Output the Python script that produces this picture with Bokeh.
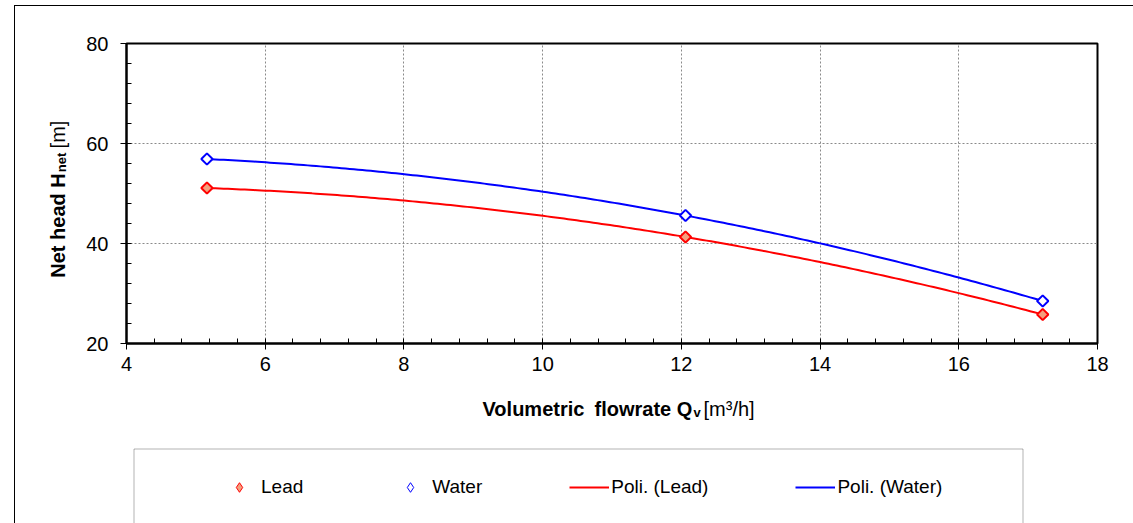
import numpy as np
from bokeh.plotting import figure
from bokeh.layouts import column, row
from bokeh.models import (Range1d, SingleIntervalTicker, Label, Legend,
                          LegendItem, BoxAnnotation)
from bokeh.embed import file_html
from bokeh.resources import INLINE

# ---- data ----
flow = [5.16, 12.06, 17.21]          # Volumetric flowrate Qv [m3/h]
head_lead = [51.1, 41.3, 25.8]       # Net head, Lead [m]
head_water = [56.9, 45.6, 28.5]      # Net head, Water [m]
series_labels = ["Lead", "Water", "Poli. (Lead)", "Poli. (Water)"]
x_limits = [4, 18]
y_limits = [20, 80]

FONT = "Liberation Sans"
W, H = 1133, 523
LEFT_W = 70
BOTTOM_TOP = 383          # page y where the bottom panel begins
FRAME_L, FRAME_T, FRAME_W, FRAME_H = 126, 43, 971, 300
FRAME_B = FRAME_T + FRAME_H

LEAD_STYLE = dict(fill_color="#F4A07E", line_color="#FF0000")
WATER_STYLE = dict(fill_color="white", line_color="#0000FF")
FIT_LEAD_STYLE = dict(line_color="#FF0000", line_width=2)
FIT_WATER_STYLE = dict(line_color="#0000FF", line_width=2)


def blank(w, h, x0, x1, y0, y1, top=0, bottom=0):
    f = figure(width=w, height=h, x_range=Range1d(x0, x1), y_range=Range1d(y0, y1),
               output_backend="svg", toolbar_location=None, min_border=0,
               min_border_top=top, min_border_bottom=bottom,
               x_axis_location=None, y_axis_location=None)
    f.outline_line_color = None
    f.background_fill_alpha = 0
    f.border_fill_alpha = 0
    f.xgrid.visible = False
    f.ygrid.visible = False
    return f


def lab(f, px, py, text, size, bold=True, angle=0, align="left"):
    f.add_layout(Label(x=px, y=py, text=text, text_font=FONT,
                       text_font_size=size, text_font_style="bold" if bold else "normal",
                       text_color="black", text_align=align, text_baseline="alphabetic",
                       angle=angle, angle_units="deg"))


# ---- left panel: y-axis title (frame aligned with the main frame) ----
left = blank(LEFT_W, BOTTOM_TOP, 0, LEFT_W, FRAME_B, FRAME_T,
             top=FRAME_T, bottom=BOTTOM_TOP - FRAME_B)
lab(left, 57, 225, "Net head H", "20px", angle=90, align="center")
lab(left, 61, 162, "net", "13px", angle=90, align="center")
lab(left, 57, 134, "[m]", "20px", bold=False, angle=90, align="center")

# ---- main plot ----
p = figure(frame_width=FRAME_W, frame_height=FRAME_H,
           min_border_left=FRAME_L - LEFT_W, min_border_top=FRAME_T,
           min_border_right=W - FRAME_L - FRAME_W,
           min_border_bottom=BOTTOM_TOP - FRAME_B,
           x_range=Range1d(*x_limits), y_range=Range1d(*y_limits),
           output_backend="svg", toolbar_location=None)
p.background_fill_color = "white"
p.border_fill_alpha = 0
p.outline_line_color = "black"
p.outline_line_width = 2

p.xaxis.ticker = SingleIntervalTicker(interval=2, num_minor_ticks=5)
p.yaxis.ticker = SingleIntervalTicker(interval=20, num_minor_ticks=5)
for ax in (p.xaxis[0], p.yaxis[0]):
    ax.axis_line_color = "black"
    ax.axis_line_width = 2
    ax.major_tick_in = 0
    ax.major_tick_out = 6
    ax.minor_tick_in = 5
    ax.minor_tick_out = 0
    ax.major_tick_line_color = "black"
    ax.minor_tick_line_color = "black"
    ax.major_label_text_font = FONT
    ax.major_label_text_font_size = "20px"
    ax.major_label_text_color = "black"
p.yaxis.major_label_standoff = 12
p.xaxis.major_label_standoff = 7

p.grid.grid_line_color = "#8a8a8a"
p.grid.grid_line_dash = "2 2"
p.grid.grid_line_width = 1

# polynomial (order 2) trendlines of the data
xs = np.linspace(min(flow), max(flow), 200)
fit_lead = np.polyval(np.polyfit(flow, head_lead, 2), xs)
fit_water = np.polyval(np.polyfit(flow, head_water, 2), xs)

p.line(xs, fit_lead, **FIT_LEAD_STYLE)
p.line(xs, fit_water, **FIT_WATER_STYLE)
p.scatter(flow, head_lead, marker="square", angle=np.pi / 4, size=8, line_width=2, **LEAD_STYLE)
p.scatter(flow, head_water, marker="square", angle=np.pi / 4, size=8, line_width=2, **WATER_STYLE)

# ---- bottom panel: x-axis title and legend ----
bottom = blank(W, H - BOTTOM_TOP, 0, W, H, BOTTOM_TOP)
bottom.add_layout(BoxAnnotation(left=133.5, right=1022.5, top=448.5, bottom=5000,
                                fill_alpha=0, line_color="black", line_width=1))

lab(bottom, 482, 408, "Volumetric", "20px")
lab(bottom, 594, 408, "flowrate Q", "20px")
lab(bottom, 693, 412, "v", "13px")
lab(bottom, 703, 408, "[m³/h]", "20px", bold=False)

# legend glyphs need renderers that live in this panel (their data lie outside its ranges)
b_pl = bottom.line(xs, fit_lead, **FIT_LEAD_STYLE)
b_pw = bottom.line(xs, fit_water, **FIT_WATER_STYLE)
b_l = bottom.scatter(flow, head_lead, marker="diamond", line_width=1, **LEAD_STYLE)
b_w = bottom.scatter(flow, head_water, marker="diamond", line_width=1, **WATER_STYLE)

legend = Legend(items=[LegendItem(label=series_labels[0], renderers=[b_l]),
                       LegendItem(label=series_labels[1], renderers=[b_w]),
                       LegendItem(label=series_labels[2], renderers=[b_pl]),
                       LegendItem(label=series_labels[3], renderers=[b_pw])],
                orientation="horizontal", location=(219, H - 499),
                glyph_width=40, glyph_height=24, label_height=24,
                label_standoff=2, spacing=87, padding=0, margin=0,
                border_line_alpha=0, background_fill_alpha=0,
                label_text_font=FONT, label_text_font_size="19px",
                label_text_color="black")
bottom.add_layout(legend, "center")

# outer chart border (left and top edges) drawn behind the transparent canvases
layout = column(row(left, p), bottom, styles={
    "background-color": "white",
    "background-image": "linear-gradient(#000, #000), linear-gradient(#000, #000)",
    "background-position": "14px 5px, 14px 5px",
    "background-size": "1px 2000px, 3000px 1px",
    "background-repeat": "no-repeat",
})
open("out.html", "w").write(file_html(layout, INLINE))
